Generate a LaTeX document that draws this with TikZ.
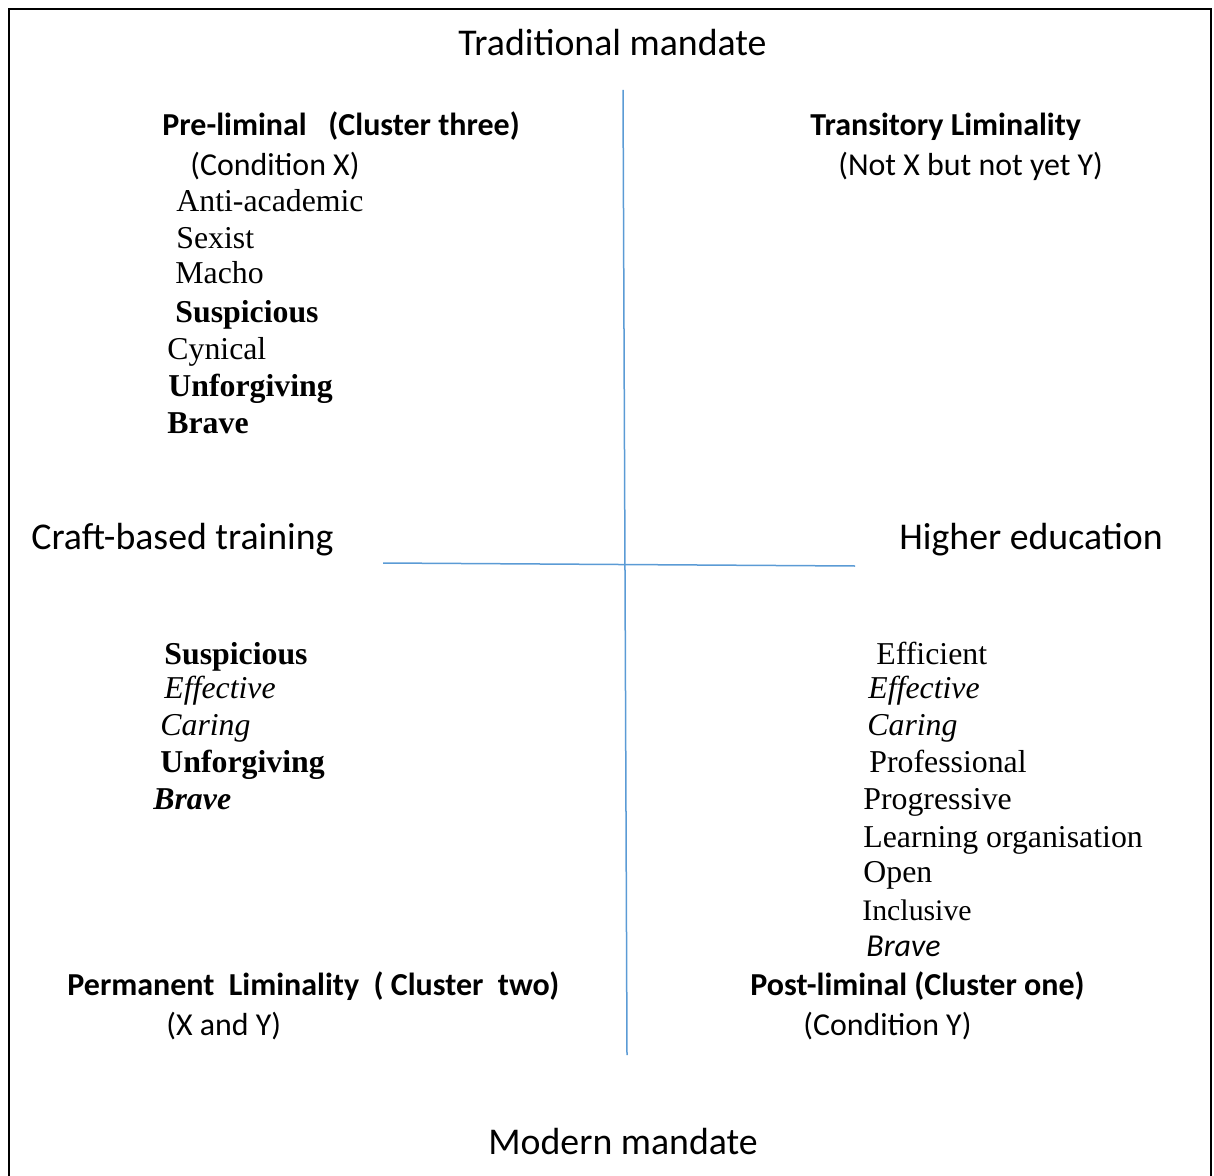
\documentclass[tikz,border=0pt]{standalone}
\usepackage{fontspec}
\setmainfont{Liberation Serif}
\newfontfamily\calibri{Carlito}
\definecolor{axisblue}{RGB}{91,155,213}

\begin{document}
\begin{tikzpicture}[x=0.5pt,y=-0.5pt,
  every node/.style={inner sep=0pt,anchor=base west},
  axislbl/.style={font=\calibri\fontsize{18.9}{20}\selectfont},
  headlbl/.style={font=\calibri\bfseries\fontsize{16}{18}\selectfont},
  condlbl/.style={font=\calibri\fontsize{15.95}{18}\selectfont},
  traitlbl/.style={font=\fontsize{15.9}{18}\selectfont}]
\useasboundingbox (0,0) rectangle (1214,1176);
% ---------- frame (bottom edge runs off the page) ----------
\draw[line width=1pt] (9,1180) -- (9,9) -- (1211,9) -- (1211,1180);
% ---------- axes ----------
\coordinate (vtop) at (623,90);
\coordinate (vbot) at (627,1055);
\coordinate (hleft) at (383,563);
\coordinate (hright) at (855,566);
\draw[axisblue,line width=0.75pt] (vtop) -- (vbot);
\draw[axisblue,line width=0.75pt] (hleft) -- (hright);
% ---------- axis labels ----------
\node[axislbl] (trad) at (458,56) {Traditional mandate};
\node[axislbl] (modern) at (488,1154) {Modern mandate};
\node[axislbl] (craft) at (31,549) {Craft-based training};
\node[axislbl] (higher) at (899,549) {Higher education};
% ---------- top left: pre-liminal ----------
\node[headlbl] (prelim) at (162,136) {Pre-liminal\ \ \ (Cluster three)};
\node[condlbl] (condx) at (190,176) {(Condition X)};
\node[traitlbl] (tlA) at (176,212) {Anti-academic};
\node[traitlbl] (tlB) at (176,249) {Sexist};
\node[traitlbl] (tlC) at (175,284) {Macho};
\node[traitlbl,font=\bfseries\fontsize{15.9}{18}\selectfont] (tlD) at (175,322) {Suspicious};
\node[traitlbl] (tlE) at (167,359) {Cynical};
\node[traitlbl,font=\bfseries\fontsize{15.9}{18}\selectfont] (tlF) at (168,396) {Unforgiving};
\node[traitlbl,font=\bfseries\fontsize{15.9}{18}\selectfont] (tlG) at (167,433) {Brave};
% ---------- top right: transitory ----------
\node[headlbl] (trans) at (810,136) {Transitory Liminality};
\node[condlbl] (notxy) at (838,176) {(Not X but not yet Y)};
% ---------- bottom left: permanent ----------
\node[traitlbl,font=\bfseries\fontsize{15.9}{18}\selectfont] (blA) at (164,664) {Suspicious};
\node[traitlbl,font=\itshape\fontsize{15.9}{18}\selectfont] (blB) at (164,698) {Effective};
\node[traitlbl,font=\itshape\fontsize{15.9}{18}\selectfont] (blC) at (160,735) {Caring};
\node[traitlbl,font=\bfseries\fontsize{15.9}{18}\selectfont] (blD) at (160,772) {Unforgiving};
\node[traitlbl,font=\bfseries\itshape\fontsize{15.9}{18}\selectfont] (blE) at (153,809) {Brave};
\node[headlbl] (perm) at (67,995) {Permanent\ \ Liminality\ \ (\ Cluster\ \ two)};
\node[condlbl] (xandy) at (166,1035) {(X and Y)};
% ---------- bottom right: post-liminal ----------
\node[traitlbl] (brA) at (876,664) {Efficient};
\node[traitlbl,font=\itshape\fontsize{15.9}{18}\selectfont] (brB) at (868,698) {Effective};
\node[traitlbl,font=\itshape\fontsize{15.9}{18}\selectfont] (brC) at (867,735) {Caring};
\node[traitlbl] (brD) at (869,772) {Professional};
\node[traitlbl] (brE) at (863,809) {Progressive};
\node[traitlbl] (brF) at (863,847) {Learning organisation};
\node[traitlbl] (brG) at (863,882) {Open};
\node[traitlbl,font=\fontsize{14.9}{18}\selectfont] (brH) at (862,920) {Inclusive};
\node[condlbl,font=\calibri\itshape\fontsize{15.95}{18}\selectfont] (brI) at (866,956) {Brave};
\node[headlbl] (postlim) at (750,995) {Post-liminal (Cluster one)};
\node[condlbl] (condy) at (803,1035) {(Condition Y)};
\end{tikzpicture}
\end{document}
